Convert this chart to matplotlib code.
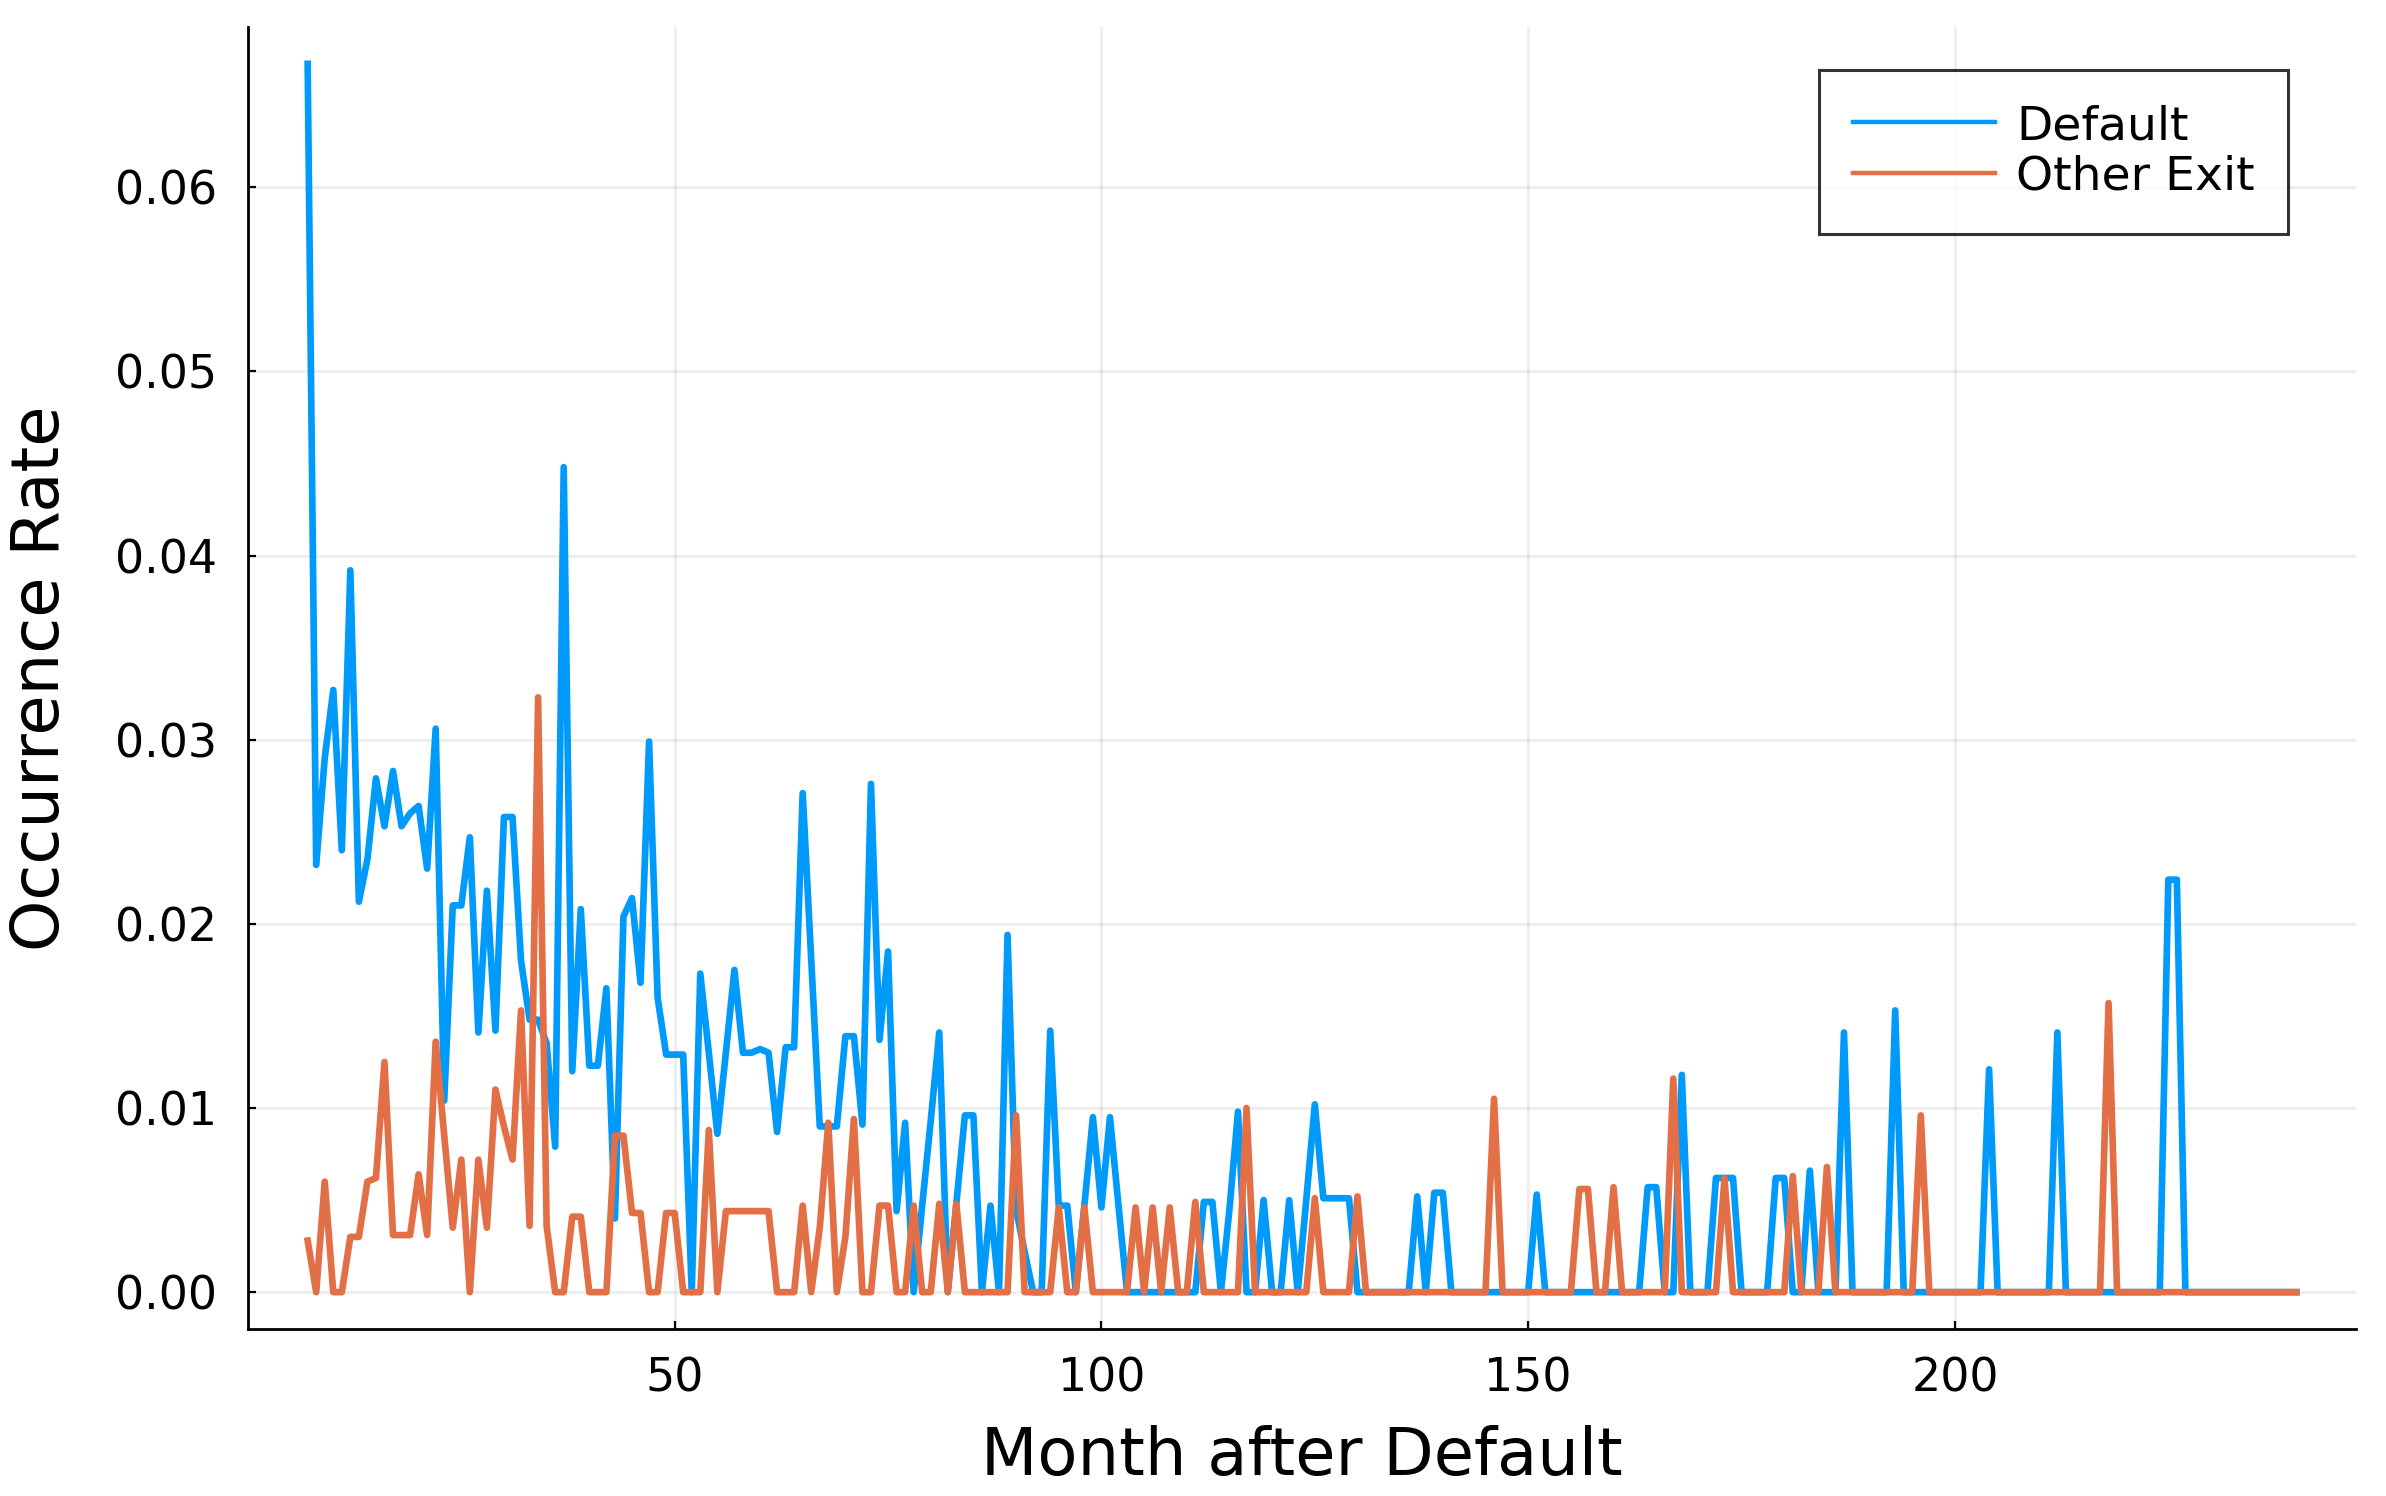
import numpy as np
import matplotlib
matplotlib.use("Agg")
import matplotlib.pyplot as plt

# ---------------- data ----------------
months = list(range(7, 241))

default_rate = [
    0.0667, 0.0232, 0.0290, 0.0327, 0.0240, 0.0392, 0.0212, 0.0235, 0.0279, 0.0253,  # 7-16
    0.0283, 0.0253, 0.0260, 0.0264, 0.0230, 0.0306, 0.0104, 0.0210, 0.0210, 0.0247,  # 17-26
    0.0141, 0.0218, 0.0142, 0.0258, 0.0258, 0.0180, 0.0148, 0.0148, 0.0135, 0.0079,  # 27-36
    0.0448, 0.0120, 0.0208, 0.0123, 0.0123, 0.0165, 0.0040, 0.0204, 0.0214, 0.0168,  # 37-46
    0.0299, 0.0160, 0.0129, 0.0129, 0.0129, 0.0, 0.0173, 0.0130, 0.0086, 0.0130,      # 47-56
    0.0175, 0.0130, 0.0130, 0.0132, 0.0130, 0.0087, 0.0133, 0.0133, 0.0271, 0.0180,  # 57-66
    0.0090, 0.0090, 0.0090, 0.0139, 0.0139, 0.0091, 0.0276, 0.0137, 0.0185, 0.0044,  # 67-76
    0.0092, 0.0, 0.0047, 0.0093, 0.0141, 0.0, 0.0048, 0.0096, 0.0096, 0.0,           # 77-86
    0.0047, 0.0, 0.0194, 0.0045, 0.0022, 0.0, 0.0, 0.0142, 0.0047, 0.0047,           # 87-96
    0.0, 0.0047, 0.0095, 0.0046, 0.0095, 0.0047, 0.0, 0.0, 0.0, 0.0,                 # 97-106
    0.0, 0.0, 0.0, 0.0, 0.0, 0.0049, 0.0049, 0.0, 0.0045, 0.0098,                    # 107-116
    0.0, 0.0, 0.0050, 0.0, 0.0, 0.0050, 0.0, 0.0050, 0.0102, 0.0051,                 # 117-126
    0.0051, 0.0051, 0.0051, 0.0, 0.0, 0.0, 0.0, 0.0, 0.0, 0.0,                       # 127-136
    0.0052, 0.0, 0.0054, 0.0054, 0.0, 0.0, 0.0, 0.0, 0.0, 0.0,                       # 137-146
    0.0, 0.0, 0.0, 0.0, 0.0053, 0.0, 0.0, 0.0, 0.0, 0.0,                             # 147-156
    0.0, 0.0, 0.0, 0.0, 0.0, 0.0, 0.0, 0.0057, 0.0057, 0.0,                          # 157-166
    0.0, 0.0118, 0.0, 0.0, 0.0, 0.0062, 0.0062, 0.0062, 0.0, 0.0,                    # 167-176
    0.0, 0.0, 0.0062, 0.0062, 0.0, 0.0, 0.0066, 0.0, 0.0, 0.0,                       # 177-186
    0.0141, 0.0, 0.0, 0.0, 0.0, 0.0, 0.0153, 0.0, 0.0, 0.0,                          # 187-196
    0.0, 0.0, 0.0, 0.0, 0.0, 0.0, 0.0, 0.0121, 0.0, 0.0,                             # 197-206
    0.0, 0.0, 0.0, 0.0, 0.0, 0.0141, 0.0, 0.0, 0.0, 0.0,                             # 207-216
    0.0, 0.0, 0.0, 0.0, 0.0, 0.0, 0.0, 0.0, 0.0224, 0.0224,                          # 217-226
    0.0, 0.0, 0.0, 0.0, 0.0, 0.0, 0.0, 0.0, 0.0, 0.0,                                # 227-236
    0.0, 0.0, 0.0, 0.0,                                                              # 237-240
]

other_exit_rate = [
    0.0028, 0.0, 0.0060, 0.0, 0.0, 0.0030, 0.0030, 0.0060, 0.0062, 0.0125,           # 7-16
    0.0031, 0.0031, 0.0031, 0.0064, 0.0031, 0.0136, 0.0085, 0.0035, 0.0072, 0.0,     # 17-26
    0.0072, 0.0035, 0.0110, 0.0090, 0.0072, 0.0153, 0.0036, 0.0323, 0.0036, 0.0,     # 27-36
    0.0, 0.0041, 0.0041, 0.0, 0.0, 0.0, 0.0085, 0.0085, 0.0043, 0.0043,              # 37-46
    0.0, 0.0, 0.0043, 0.0043, 0.0, 0.0, 0.0, 0.0088, 0.0, 0.0044,                    # 47-56
    0.0044, 0.0044, 0.0044, 0.0044, 0.0044, 0.0, 0.0, 0.0, 0.0047, 0.0,              # 57-66
    0.0035, 0.0092, 0.0, 0.0030, 0.0094, 0.0, 0.0, 0.0047, 0.0047, 0.0,              # 67-76
    0.0, 0.0047, 0.0, 0.0, 0.0048, 0.0, 0.0048, 0.0, 0.0, 0.0,                       # 77-86
    0.0, 0.0, 0.0, 0.0096, 0.0, 0.0, 0.0, 0.0, 0.0046, 0.0,                          # 87-96
    0.0, 0.0046, 0.0, 0.0, 0.0, 0.0, 0.0, 0.0046, 0.0, 0.0046,                       # 97-106
    0.0, 0.0046, 0.0, 0.0, 0.0049, 0.0, 0.0, 0.0, 0.0, 0.0,                          # 107-116
    0.0100, 0.0, 0.0, 0.0, 0.0, 0.0, 0.0, 0.0, 0.0051, 0.0,                          # 117-126
    0.0, 0.0, 0.0, 0.0052, 0.0, 0.0, 0.0, 0.0, 0.0, 0.0,                             # 127-136
    0.0, 0.0, 0.0, 0.0, 0.0, 0.0, 0.0, 0.0, 0.0, 0.0105,                             # 137-146
    0.0, 0.0, 0.0, 0.0, 0.0, 0.0, 0.0, 0.0, 0.0, 0.0056,                             # 147-156
    0.0056, 0.0, 0.0, 0.0057, 0.0, 0.0, 0.0, 0.0, 0.0, 0.0,                          # 157-166
    0.0116, 0.0, 0.0, 0.0, 0.0, 0.0, 0.0062, 0.0, 0.0, 0.0,                          # 167-176
    0.0, 0.0, 0.0, 0.0, 0.0063, 0.0, 0.0, 0.0, 0.0068, 0.0,                          # 177-186
    0.0, 0.0, 0.0, 0.0, 0.0, 0.0, 0.0, 0.0, 0.0, 0.0096,                             # 187-196
    0.0, 0.0, 0.0, 0.0, 0.0, 0.0, 0.0, 0.0, 0.0, 0.0,                                # 197-206
    0.0, 0.0, 0.0, 0.0, 0.0, 0.0, 0.0, 0.0, 0.0, 0.0,                                # 207-216
    0.0, 0.0157, 0.0, 0.0, 0.0, 0.0, 0.0, 0.0, 0.0, 0.0,                             # 217-226
    0.0, 0.0, 0.0, 0.0, 0.0, 0.0, 0.0, 0.0, 0.0, 0.0,                                # 227-236
    0.0, 0.0, 0.0, 0.0,                                                              # 237-240
]

series_labels = ["Default", "Other Exit"]
x_ticks = [50, 100, 150, 200]
y_ticks = [0.00, 0.01, 0.02, 0.03, 0.04, 0.05, 0.06]
x_label = "Month after Default"
y_label = "Occurrence Rate"

# ---------------- figure ----------------
plt.rcParams['font.family'] = ['DejaVu Sans']
DPI = 200
W, H = 2386, 1496
fig = plt.figure(figsize=(W / DPI, H / DPI), dpi=DPI, facecolor="white")

left, right = 248 / W, 2356 / W
bottom, top = 1 - 1329 / H, 1 - 27 / H
ax = fig.add_axes([left, bottom, right - left, top - bottom])

blue = "#009AFA"
orange = "#E36F47"
lw = 2.4

ax.plot(months, default_rate, color=blue, lw=lw, label=series_labels[0],
        solid_joinstyle="round", zorder=3)
ax.plot(months, other_exit_rate, color=orange, lw=lw, label=series_labels[1],
        solid_joinstyle="round", zorder=4)

ax.margins(x=0.03, y=0.03)

ax.set_xticks(x_ticks)
ax.set_yticks(y_ticks)
ax.set_yticklabels([f"{v:.2f}" for v in y_ticks])

ax.grid(True, color="black", alpha=0.07, lw=1.0)
ax.set_axisbelow(True)

for s in ["top", "right"]:
    ax.spines[s].set_visible(False)
for s in ["left", "bottom"]:
    ax.spines[s].set_color("black")
    ax.spines[s].set_linewidth(1.0)

ax.tick_params(axis="both", direction="in", length=3, width=0.8,
               labelsize=16.5, color="black")
ax.tick_params(axis="y", pad=11)
ax.tick_params(axis="x", pad=10)

ax.set_xlabel(x_label, fontsize=23.6)
ax.set_ylabel(y_label, fontsize=23.6)
ax.xaxis.label.set_va("center")
ax.yaxis.label.set_va("center")
ax.xaxis.set_label_coords(0.5, -0.098)
ax.yaxis.set_label_coords(-0.098, 0.5)

# legend box in figure pixels (from the reference)
lx0, lx1 = 1819, 2288
ly0, ly1 = 70, 227
leg = ax.legend(loc="upper left",
                bbox_to_anchor=(lx0 / W, 1 - ly1 / H, (lx1 - lx0) / W, (ly1 - ly0) / H),
                bbox_transform=fig.transFigure, borderaxespad=0.0, mode="expand",
                fontsize=17, frameon=True, fancybox=False,
                handlelength=3.0, handletextpad=0.45, labelspacing=0.12,
                borderpad=0.72)
leg.get_frame().set_edgecolor("black")
leg.get_frame().set_linewidth(1.1)
for line in leg.get_lines():
    line.set_linewidth(1.6)

fig.savefig("out.png", dpi=DPI, facecolor="white")
